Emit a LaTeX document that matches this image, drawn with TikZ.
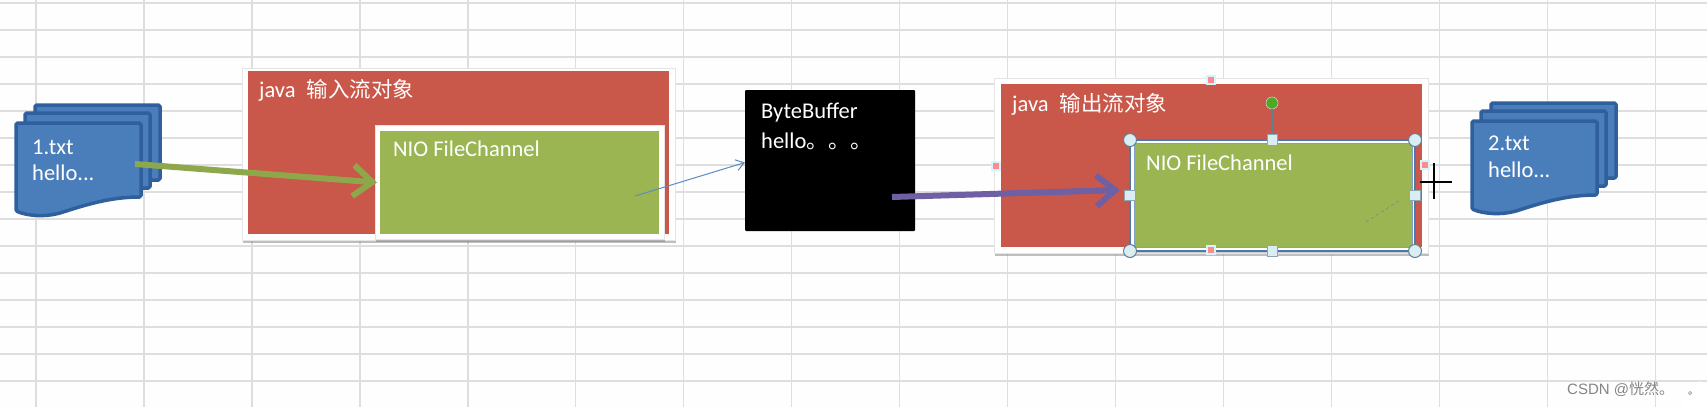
\documentclass[tikz,border=0pt]{standalone}
\usepackage{fontspec}
\usepackage{xcolor}
\setmainfont{Carlito}
\newfontfamily\cjk{Noto Sans CJK SC}
\newfontfamily\markfont{Liberation Sans}
\usetikzlibrary{positioning, arrows.meta, shadows}

\definecolor{sheetblue}{HTML}{4A7EBB}
\definecolor{sheetline}{HTML}{2F5F9C}
\definecolor{boxred}{HTML}{C9584A}
\definecolor{boxgreen}{HTML}{9BB552}
\definecolor{arrowpurple}{HTML}{6F5FA3}
\definecolor{handleblue}{HTML}{D9EDF3}
\definecolor{handleline}{HTML}{5F7F93}
\definecolor{paper}{HTML}{FDFEFD}

\begin{document}
\begin{tikzpicture}[
  x=1pt, y=-1pt,
  every node/.style={font=\fontsize{22.5}{27}\selectfont},
  gridline/.style={draw=black!13, line width=1.4pt},
  plainbox/.style={
    rectangle, inner sep=0pt, outer sep=0pt,
  },
  framebox/.style={
    plainbox, fill=white, draw=black!10, line width=0.6pt,
    drop shadow={opacity=0.5, shadow xshift=1pt, shadow yshift=-2.5pt},
  },
  redbox/.style={plainbox, fill=boxred},
  greenbox/.style={plainbox, fill=boxgreen},
  label/.style={anchor=west, inner sep=0pt, text=white},
  sheet/.style={
    draw=sheetline, fill=sheetblue, line width=3.5pt,
    line join=round, rounded corners=1.5pt,
  },
  cornerhandle/.style={
    circle, draw=handleline, fill=handleblue, line width=1pt,
    minimum size=13pt, inner sep=0pt,
  },
  sidehandle/.style={
    rectangle, draw=handleline!70, fill=handleblue, line width=1pt,
    minimum size=10.5pt, inner sep=0pt,
  },
  pinkhandle/.style={
    rectangle, fill=red!45!white, draw=cyan!15, line width=1.5pt,
    minimum size=8pt, inner sep=0pt,
  },
  filestack/.pic={
    \draw[sheet] (19,-18) rectangle (144,57);
    \draw[sheet] (9,-10) rectangle (134,65);
    \draw[sheet] (0,0) -- (125,0) -- (125,74)
      .. controls (94,74) and (69,82) .. (44,90)
      .. controls (29,94) and (12,93) .. (0,88) -- cycle;
  },
  thickarr/.style={-{Straight Barb[length=19pt,width=31pt]}, line width=6pt},
  thinarr/.style={-{Straight Barb[length=8pt,width=11pt]}, draw=sheetblue!90, line width=1pt},
]
  % sheet background
  \useasboundingbox (0,0) rectangle (1707,407);
  \fill[paper] (0,0) rectangle (1707,407);
  \foreach \k in {0,...,15} \draw[gridline] ({36+107.95*\k},0) -- ++(0,407);
  \foreach \k in {0,...,14} \draw[gridline] (0,{3+27*\k}) -- ++(1707,0);

  % files
  \pic at (16,123) {filestack};
  \pic at (1472,121) {filestack};
  \node[label] (srcname) at (32,147) {1.txt};
  \node[label] (srctext) at (32,173) {hello...};
  \node[label] (dstname) at (1488,143) {2.txt};
  \node[label] (dsttext) at (1488,170) {hello...};

  % input stream
  \node[framebox, minimum width=433pt, minimum height=172pt] (inframe) at (458.5,154) {};
  \node[redbox, minimum width=421pt, minimum height=163pt] (inred) at (458.5,152.5) {};
  \node[framebox, minimum width=289pt, minimum height=114pt] (inchanframe) at (519.5,182) {};
  \node[greenbox, minimum width=278.5pt, minimum height=103pt] (inchan) at (519.25,182.5) {};
  \node[label] (intitle) at (259,90) {java\hspace{0.5em}{\cjk\fontsize{21.5}{26}\selectfont 输入流对象}};
  \node[label] (inchantext) at (393,149) {NIO FileChannel};

  % buffer
  \node[plainbox, fill=black, rounded corners=1pt, minimum width=170pt, minimum height=141pt] (buf) at (830,160.5) {};
  \node[label] (bufname) at (761,113) {ByteBuffer};
  \node[label] (buftext) at (761,141) {hello{\cjk\fontsize{22}{26}\selectfont 。。。}};

  % output stream
  \node[framebox, minimum width=434pt, minimum height=175pt] (outframe) at (1211,165.5) {};
  \node[redbox, minimum width=421pt, minimum height=163pt] (outred) at (1211.5,165.5) {};
  \node[plainbox, fill=white, draw=sheetline!85, line width=1.4pt,
    drop shadow={opacity=0.4, shadow xshift=0pt, shadow yshift=-2pt},
    minimum width=285pt, minimum height=111pt] (outsel) at (1272.5,195.5) {};
  \node[greenbox, draw=sheetline!60, line width=0.5pt, minimum width=278pt, minimum height=104pt] (outchan) at (1273,195) {};
  \node[label] (outtitle) at (1012,104) {java\hspace{0.5em}{\cjk\fontsize{21.5}{26}\selectfont 输出流对象}};
  \node[label] (outchantext) at (1146,163) {NIO FileChannel};

  % arrows
  \coordinate (srctail) at (135,164);
  \coordinate (chantail) at (635,196);
  \coordinate (buftail) at (892,197);
  \coordinate (dashtail) at (1366,222);
  \draw[thickarr, draw=boxgreen!92!black] (srctail) -- ([xshift=-3pt]inchan.west);
  \draw[thinarr] (chantail) -- ([yshift=-2pt]buf.west);
  \draw[thickarr, draw=arrowpurple] (buftail) -- ([shift={(-14,-5)}]outchan.west);
  \draw[black!45, dashed, line width=0.8pt] (dashtail) -- ([shift={(-12,5)}]outchan.east);

  % selection handles
  \node[circle, fill=green!60!lime!60!black!85, draw=gray!40, line width=0.6pt, minimum size=12pt, inner sep=0pt] (rothandle) at (1272,103) {};
  \draw[handleline, line width=1.4pt] (rothandle) -- (outsel.north);
  \foreach \anc/\nm in {north west/hnw, north east/hne, south west/hsw, south east/hse}
    \node[cornerhandle] (\nm) at (outsel.\anc) {};
  \foreach \anc/\nm in {north/hn, south/hs, west/hw, east/he}
    \node[sidehandle] (\nm) at (outsel.\anc) {};
  \node[pinkhandle] (pinktop) at (1211,80) {};
  \node[pinkhandle] (pinkleft) at (996,166) {};
  \node[pinkhandle] (pinkbottom) at (1211,250) {};
  \node[pinkhandle] (pinkright) at (1425,165) {};

  % mouse cursor
  \coordinate (curtop) at (1434,163);
  \coordinate (curbottom) at (1434,199);
  \coordinate (curleft) at (1420,182);
  \coordinate (curright) at (1452,182);
  \draw[black, line width=2.4pt] (curtop) -- (curbottom);
  \draw[black, line width=2.4pt] (curleft) -- (curright);

  % watermark
  \fill[white] (1707,407) -- (1682,407) .. controls (1684,392) and (1695,388) .. (1700,381) .. controls (1703,384) and (1705,384) .. (1707,385) -- cycle;
  \draw[black!40, line width=0.6pt] (1690,393) circle (1.6pt);
  \node[anchor=west, inner sep=0pt, text=black!48, font=\markfont\fontsize{15}{18}\selectfont] (mark) at (1567,389) {CSDN @{\cjk 恍然。}};
\end{tikzpicture}
\end{document}
